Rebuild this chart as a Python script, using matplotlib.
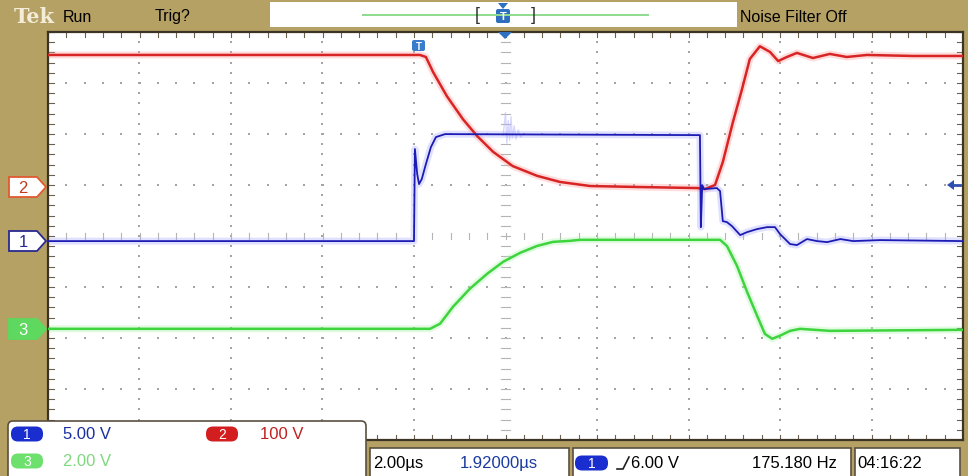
import matplotlib
matplotlib.use('Agg')
import matplotlib.pyplot as plt
import numpy as np
from matplotlib.patches import Polygon, FancyBboxPatch, Rectangle

plt.rcParams['font.family'] = ['Liberation Sans', 'DejaVu Sans']

# time axis in microseconds (2 us/div, 0 = screen centre)
# ch1: 5 V/div, ch2: 100 V/div, ch3: 2 V/div
ch1_t = [-10.0, -2.0, -1.98, -1.93, -1.89, -1.83, -1.74, -1.63, -1.52, -1.32, 4.25,
         4.27, 4.30, 4.34, 4.62, 4.69, 4.75, 4.84, 4.95, 5.13, 5.28, 5.50, 5.72,
         5.89, 6.00, 6.22, 6.37, 6.59, 6.81, 7.03, 7.32, 7.60, 8.19, 10.0]
ch1_v = [0.0, 0.0, 9.02, 6.57, 5.59, 6.08, 7.55, 9.22, 10.2, 10.49, 10.39,
         1.37, 5.49, 5.10, 5.20, 4.90, 1.96, 1.86, 1.47, 0.59, 0.88, 1.18, 1.37,
         1.37, 0.69, -0.29, -0.39, 0.20, 0.0, -0.10, 0.20, 0.0, 0.10, 0.0]

# ringing on ch1 right after the turn-on edge
burst_t = [-0.05, 0.0, 0.03, 0.06, 0.09, 0.12, 0.15, 0.19, 0.23, 0.28, 0.33, 0.40]
burst_v = [10.4, 12.6, 9.6, 11.8, 9.9, 12.2, 10.1, 11.3, 10.0, 10.9, 10.2, 10.5]

ch2_t = [-10.0, -1.87, -1.74, -1.58, -1.28, -0.93, -0.62, -0.27, 0.16, 0.69, 1.19,
         1.85, 2.94, 4.19, 4.36, 4.58, 4.75, 4.97, 5.17, 5.34, 5.56, 5.78, 5.96,
         6.15, 6.37, 6.72, 7.09, 7.46, 7.90, 8.91, 10.0]
ch2_v = [259, 259, 255, 225, 178, 133, 100, 69, 41, 22, 10,
         2, 0, -2, -4, 4, 49, 127, 192, 251, 276, 265, 247,
         255, 263, 253, 261, 255, 259, 257, 257]

ch3_t = [-10.0, -1.65, -1.43, -1.15, -0.78, -0.40, -0.05, 0.32, 0.69, 1.04, 1.41,
         1.63, 4.69, 4.84, 5.06, 5.28, 5.50, 5.67, 5.83, 6.00, 6.22, 6.44, 7.09, 10.0]
ch3_v = [0.0, 0.0, 0.20, 0.86, 1.57, 2.16, 2.63, 2.98, 3.25, 3.41, 3.45,
         3.49, 3.49, 3.25, 2.47, 1.45, 0.51, -0.20, -0.39, -0.27, -0.08, 0.0, -0.08, -0.04]

# vertical scale and ground marker position (divisions from centre)
ch1_scale, ch1_pos = 5.0, -0.1
ch2_scale, ch2_pos = 100.0, 0.96
ch3_scale, ch3_pos = 2.0, -1.82

TAN = '#b6a165'
BLUE = '#1c1cb4'
RED = '#d82424'
GREEN = '#3ed43e'

fig = plt.figure(figsize=(9.68, 4.77), dpi=100)
fig.patch.set_facecolor(TAN)

ax = fig.add_axes([48 / 968, 36 / 477, 915 / 968, 408 / 477])
ax.set_facecolor('white')
ax.set_xlim(-10, 10)
ax.set_ylim(-4, 4)
ax.set_xticks([])
ax.set_yticks([])
for s in ax.spines.values():
    s.set_color('#3c3424')
    s.set_linewidth(1.6)

# graticule: dotted major lines, ticked centre cross and border ticks
dot = dict(color='#a4a4a4', s=1.6, marker='s', linewidths=0, zorder=1)
for gx in np.arange(-8, 9, 2):
    if gx == 0:
        continue
    ys = np.arange(-4, 4.01, 0.2)
    ax.scatter(np.full_like(ys, gx), ys, **dot)
for gy in np.arange(-3, 4, 1):
    if gy == 0:
        continue
    xs = np.arange(-10, 10.01, 0.4)
    ax.scatter(xs, np.full_like(xs, gy), **dot)
tk = dict(color='#b4b4b4', lw=0.8, zorder=1)
for xx in np.arange(-10, 10.01, 0.4):
    ax.plot([xx, xx], [-0.06, 0.06], **tk)
    ax.plot([xx, xx], [4, 3.9], color='#6a6050', lw=0.8)
    ax.plot([xx, xx], [-4, -3.9], color='#6a6050', lw=0.8)
for yy in np.arange(-4, 4.01, 0.2):
    ax.plot([-0.1, 0.1], [yy, yy], **tk)
    ax.plot([-10, -9.87], [yy, yy], color='#6a6050', lw=0.8)
    ax.plot([10, 9.87], [yy, yy], color='#6a6050', lw=0.8)

# traces with a soft halo
def trace(t, v, scale, pos, color, halo, lw):
    y = pos + np.array(v) / scale
    ax.plot(t, y, color=halo, lw=5, alpha=0.35, zorder=2, solid_capstyle='round')
    ax.plot(t, y, color=color, lw=lw, zorder=3)

trace(ch2_t, ch2_v, ch2_scale, ch2_pos, RED, '#ff9a9a', 1.8)
ax.plot(burst_t, ch1_pos + np.array(burst_v) / ch1_scale, color='#b0b0ff', lw=1, alpha=0.5, zorder=2)
trace(ch1_t, ch1_v, ch1_scale, ch1_pos, BLUE, '#a8a8ff', 1.3)
trace(ch3_t, ch3_v, ch3_scale, ch3_pos, GREEN, '#a8f5a8', 1.8)

# screen furniture drawn in pixel coordinates
ov = fig.add_axes([0, 0, 1, 1], zorder=5)
ov.set_xlim(0, 968)
ov.set_ylim(477, 0)
ov.axis('off')

ov.text(14, 17, 'Tek', fontsize=15, fontweight='bold', family='DejaVu Serif',
        color='#f2ecd8', va='center')
ov.text(63, 17, 'Run', fontsize=11.5, va='center')
ov.text(155, 17, 'Trig?', fontsize=11.5, va='center')
ov.add_patch(Rectangle((270, 3), 467, 25, facecolor='white', edgecolor='none'))
ov.plot([363, 648], [16, 16], color='#8fdc8f', lw=1.4)
ov.text(477, 16, '[', fontsize=13, va='center', ha='center', color='#303030')
ov.text(533, 16, ']', fontsize=13, va='center', ha='center', color='#303030')
ov.add_patch(FancyBboxPatch((496, 10), 14, 14, boxstyle='round,pad=0,rounding_size=2',
                            facecolor='#2f6fc0', edgecolor='none'))
ov.text(503, 17, 'T', fontsize=8, color='white', ha='center', va='center', fontweight='bold')
ov.add_patch(Polygon([(498, 4), (508, 4), (503, 10)], facecolor='#2f6fc0'))
ov.add_patch(Polygon([(498, 33), (512, 33), (505, 40)], facecolor='#2f6fc0'))
ov.text(740, 17, 'Noise Filter Off', fontsize=11.5, va='center')

# trigger position flag and trigger level arrow
ov.add_patch(FancyBboxPatch((412, 41), 13, 11, boxstyle='round,pad=0,rounding_size=2',
                            facecolor='#3a7ccc', edgecolor='none'))
ov.text(418.5, 46.5, 'T', fontsize=7, color='white', ha='center', va='center', fontweight='bold')
ov.add_patch(Polygon([(947, 186), (954, 181), (954, 191)], facecolor='#2f4fb0'))
ov.plot([952, 960], [186, 186], color='#2f4fb0', lw=2)

# channel ground markers
def marker(y, label, edge, fill, tc):
    ov.add_patch(Polygon([(9, y - 10), (37, y - 10), (46, y), (37, y + 10), (9, y + 10)],
                         facecolor=fill, edgecolor=edge, lw=1.3))
    ov.text(23, y + 1, label, fontsize=12, color=tc, ha='center', va='center')

marker(188, '2', '#e05a30', 'white', '#c03a20')
marker(242, '1', '#2a2a90', 'white', '#2a2a90')
marker(330, '3', '#5ed85e', '#5ed85e', 'white')

# channel scale readout
ov.add_patch(FancyBboxPatch((8, 422), 358, 60, boxstyle='round,pad=0,rounding_size=5',
                            facecolor='white', edgecolor='#5a5040', lw=1.2))

def pill(x, y, label, fill, w=32):
    ov.add_patch(FancyBboxPatch((x, y - 7.5), w, 15, boxstyle='round,pad=0,rounding_size=7',
                                facecolor=fill, edgecolor='none'))
    ov.text(x + w / 2, y + 0.5, label, fontsize=10, color='white', ha='center', va='center')

pill(11, 435, '1', '#1a2ed0')
ov.text(63, 435, '5.00 V', fontsize=12, color='#1a2ea0', va='center')
pill(206, 435, '2', '#d21e1e')
ov.text(260, 435, '100 V', fontsize=12, color='#c02020', va='center')
pill(11, 462, '3', '#6ee06e')
ov.text(63, 462, '2.00 V', fontsize=12, color='#7ed87e', va='center')

# horizontal / trigger / clock readouts
for x0, x1 in [(370, 569), (573, 851), (855, 960)]:
    ov.add_patch(Rectangle((x0, 449), x1 - x0, 30, facecolor='white',
                           edgecolor='#5a5040', lw=1.2))
ov.text(373, 464, '2.00µs', fontsize=12, va='center')
ov.text(460, 464, '1.92000µs', fontsize=12, color='#1a3aa0', va='center')
pill(575, 464, '1', '#1a2ed0', w=33)
ov.plot([617, 623, 629], [470, 470, 458], color='#202020', lw=1.2)
ov.text(631, 464, '6.00 V', fontsize=12, va='center')
ov.text(752, 464, '175.180 Hz', fontsize=12, va='center')
ov.text(857, 464, '04:16:22', fontsize=12, va='center')

fig.savefig('out.png', dpi=100, facecolor=TAN)
